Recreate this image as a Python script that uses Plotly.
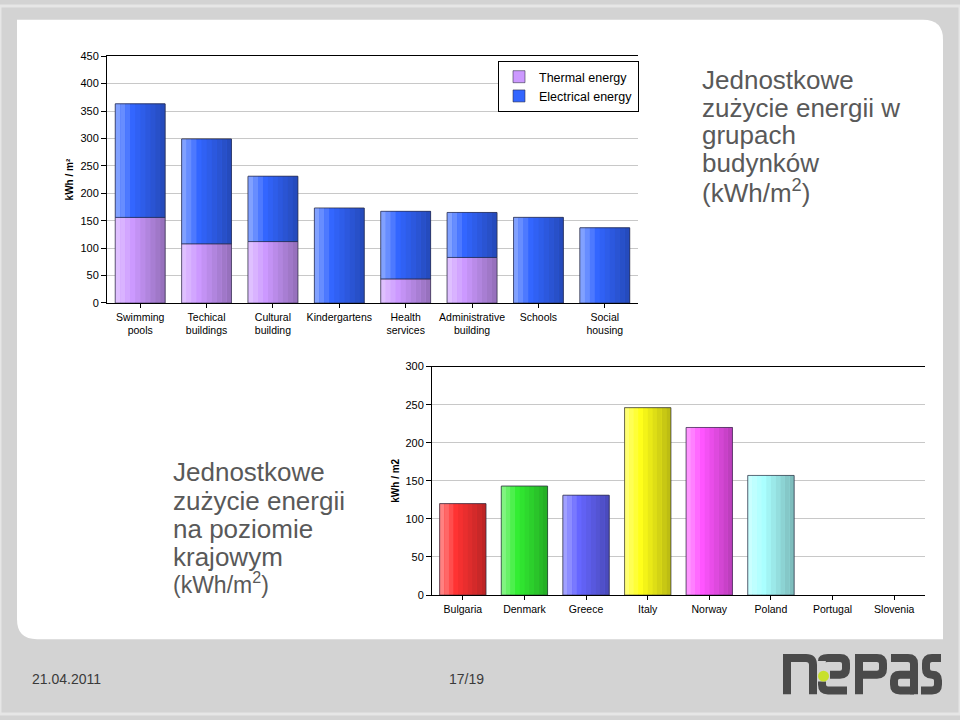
import plotly.graph_objects as go

# ---------------- data ----------------
building_groups = ["Swimming<br>pools", "Techical<br>buildings", "Cultural<br>building",
                   "Kindergartens", "Health<br>services", "Administrative<br>building",
                   "Schools", "Social<br>housing"]
thermal_energy = [156, 108, 112, 0, 44, 83, 0, 0]
electrical_energy = [207, 191, 119, 173, 123, 82, 156, 137]

countries = ["Bulgaria", "Denmark", "Greece", "Italy", "Norway", "Poland", "Portugal", "Slovenia"]
country_values = [120, 143, 131, 246, 220, 157, None, None]

top_ticks = [0, 50, 100, 150, 200, 250, 300, 350, 400, 450]
bottom_ticks = [0, 50, 100, 150, 200, 250, 300]

# ---------------- styling helpers ----------------
W, H = 960, 720
FONT = "Liberation Sans"
TEXT_GRAY = "#595959"
THERMAL_COLOR = "#cc99ff"
ELECTRIC_COLOR = "#3366ff"
COUNTRY_COLORS = ["#ff3333", "#33ee33", "#6666ff", "#ffff1a", "#ff55ff", "#aaffff", "#cccccc", "#cccccc"]
BAR_W = 0.75
N_SLICES = 10


def fx(x):
    return x / W


def fy(y):
    return 1 - y / H


def P(x, y):
    return f"{fx(x):.5f},{fy(y):.5f}"


def hex_rgb(h):
    h = h.lstrip("#")
    return tuple(int(h[i:i + 2], 16) for i in (0, 2, 4))


def shade(h, t):
    r, g, b = hex_rgb(h)
    if t < 0.35:
        a = 0.45 * (0.35 - t) / 0.35
        r, g, b = [c + (255 - c) * a for c in (r, g, b)]
    else:
        a = 0.28 * (t - 0.35) / 0.65
        r, g, b = [c * (1 - a) for c in (r, g, b)]
    return f"rgb({int(r)},{int(g)},{int(b)})"


fig = go.Figure()


def add_gradient_bars(x, y, base, color, xaxis, yaxis, name, legend):
    colors = color if isinstance(color, list) else [color] * len(x)
    # solid base bar (carries the legend swatch)
    fig.add_trace(go.Bar(x=x, y=y, base=base, name=name, width=BAR_W, offset=-BAR_W / 2,
                         marker=dict(color=colors, line=dict(color="rgba(40,40,60,0.55)", width=1)),
                         xaxis=xaxis, yaxis=yaxis, showlegend=legend, hoverinfo="skip"))
    sw = BAR_W / N_SLICES
    for k in range(N_SLICES):
        t = (k + 0.5) / N_SLICES
        fig.add_trace(go.Bar(x=x, y=y, base=base, width=sw * 1.02, offset=-BAR_W / 2 + k * sw,
                             marker=dict(color=[shade(c, t) for c in colors], line=dict(width=0)),
                             xaxis=xaxis, yaxis=yaxis, showlegend=False, hoverinfo="skip"))
    # outline on top
    fig.add_trace(go.Bar(x=x, y=y, base=base, width=BAR_W, offset=-BAR_W / 2,
                         marker=dict(color="rgba(0,0,0,0)", line=dict(color="rgba(40,40,60,0.55)", width=1)),
                         xaxis=xaxis, yaxis=yaxis, showlegend=False, hoverinfo="skip"))


add_gradient_bars(building_groups, thermal_energy, None, THERMAL_COLOR, "x", "y", "Thermal energy", True)
add_gradient_bars(building_groups, electrical_energy, thermal_energy, ELECTRIC_COLOR, "x", "y",
                  "Electrical energy", True)
add_gradient_bars(countries, country_values, None, COUNTRY_COLORS, "x2", "y2", "countries", False)

axis_common = dict(showline=True, linecolor="black", linewidth=1, ticks="outside", tickcolor="black",
                   showgrid=False, zeroline=False, fixedrange=True)

fig.update_layout(
    width=W, height=H, margin=dict(l=0, r=0, t=0, b=0),
    paper_bgcolor="#d3d3d3", plot_bgcolor="rgba(0,0,0,0)",
    barmode="overlay", bargap=0.25,
    font=dict(family=FONT, color="black"),
    xaxis=dict(domain=[fx(107), fx(638)], anchor="y", mirror=True, ticklen=4,
               tickfont=dict(size=10.5, family=FONT), **axis_common),
    yaxis=dict(domain=[fy(302), fy(51)], anchor="x", range=[0, 450], tickvals=top_ticks,
               showline=True, linecolor="black", ticks="outside", tickcolor="black", ticklen=5,
               showgrid=True, gridcolor="#c8c8c8", gridwidth=1, zeroline=False, fixedrange=True,
               tickfont=dict(size=11, family=FONT),
               title=dict(text="<b>kWh / m²</b>", font=dict(size=10, family=FONT), standoff=4)),
    xaxis2=dict(domain=[fx(432), fx(925)], anchor="y2", mirror=True, ticklen=4,
                tickfont=dict(size=10.5, family=FONT), **axis_common),
    yaxis2=dict(domain=[fy(599), fy(366.7)], anchor="x2", range=[0, 300], tickvals=bottom_ticks,
                showline=True, linecolor="black", ticks="outside", tickcolor="black", ticklen=5,
                showgrid=True, gridcolor="#c8c8c8", gridwidth=1, zeroline=False, fixedrange=True,
                tickfont=dict(size=11, family=FONT),
                title=dict(text="<b>kWh / m2</b>", font=dict(size=10, family=FONT), standoff=3)),
    legend=dict(x=fx(498), y=fy(56), xanchor="left", yanchor="top", bgcolor="white",
                bordercolor="black", borderwidth=1, traceorder="normal",
                font=dict(size=12.5, family=FONT), itemwidth=30, tracegroupgap=0),
)

# ---------------- slide background ----------------
panel = (f"M{P(17,14)} L{P(923,14)} Q{P(943,14)} {P(943,34)} L{P(943,644)} "
         f"L{P(37,644)} Q{P(17,644)} {P(17,624)} Z")
fig.add_shape(type="path", path=panel, xref="paper", yref="paper", layer="below",
              fillcolor="white", line=dict(width=0))
fig.add_shape(type="rect", x0=0, x1=1, y0=0, y1=1, xref="paper", yref="paper", layer="below",
              fillcolor="rgba(0,0,0,0)", line=dict(color="#e6e6e6", width=3))

# ---------------- text blocks ----------------
def add_lines(lines, x, baselines, size):
    for txt, b in zip(lines, baselines):
        fig.add_annotation(text=txt, x=fx(x), y=fy(b - 0.35 * size), xref="paper", yref="paper",
                           xanchor="left", yanchor="middle", showarrow=False,
                           font=dict(family=FONT, size=size, color=TEXT_GRAY))


add_lines(["Jednostkowe", "zużycie energii w", "grupach", "budynków", "(kWh/m<sup>2</sup>)"],
          700, [84, 112.5, 140.5, 169, 197.5], 26)
add_lines(["Jednostkowe", "zużycie energii", "na poziomie", "krajowym"],
          171, [483.3, 512.3, 540.7, 569], 26)
add_lines(["(kWh/m<sup>2</sup>)"], 171, [595], 23)

# footer
for txt, x in [("21.04.2011", 30), ("17/19", 447)]:
    fig.add_annotation(text=txt, x=fx(x), y=fy(684), xref="paper", yref="paper", xanchor="left",
                       yanchor="middle", showarrow=False,
                       font=dict(family=FONT, size=14, color="#3a3a3a"))

# ---------------- nepas logo ----------------
logo_paths = [
    f"M{P(787,700)} L{P(787,663)} L{P(806,663)} Q{P(813,663)} {P(813,670)} L{P(813,700)}",
    f"M{P(822,666)} Q{P(822,663)} {P(828,663)} L{P(840,663)} Q{P(846,663)} {P(846,669)} "
    f"L{P(846,674)} Q{P(846,680)} {P(840,680)} L{P(830,680)}",
    f"M{P(822,687)} L{P(822,690)} Q{P(822,696)} {P(828,696)} L{P(847,696)}",
    f"M{P(859,700)} L{P(859,663)} L{P(877,663)} Q{P(883,663)} {P(883,669)} L{P(883,674)} "
    f"Q{P(883,680)} {P(877,680)} L{P(859,680)}",
    f"M{P(891,663)} L{P(908,663)} Q{P(914,663)} {P(914,669)} L{P(914,700)}",
    f"M{P(914,680)} L{P(900,680)} Q{P(894,680)} {P(894,686)} L{P(894,690)} Q{P(894,696)} {P(900,696)} L{P(914,696)}",
    f"M{P(941,663)} L{P(932,663)} Q{P(926,663)} {P(926,669)} L{P(926,674)} Q{P(926,680)} {P(932,680)} "
    f"Q{P(938,680)} {P(938,686)} L{P(938,690)} Q{P(938,696)} {P(932,696)} L{P(921,696)}",
]
for p in logo_paths:
    fig.add_shape(type="path", path=p, xref="paper", yref="paper", layer="above",
                  line=dict(color="#4a4a4a", width=8))
fig.add_shape(type="circle", x0=fx(818), x1=fx(829), y0=fy(687), y1=fy(676), xref="paper", yref="paper",
              fillcolor="#c8e02c", line=dict(width=0), layer="above")

page_fix = ("document.documentElement.style.margin='0';document.body.style.margin='0';"
            "document.body.style.padding='0';document.body.style.overflow='hidden';"
            "var d=document.getElementById('{plot_id}');d.style.position='fixed';"
            "d.style.left='0px';d.style.top='0px';")
fig.write_html("out.html", post_script=page_fix, config={"displayModeBar": False})
